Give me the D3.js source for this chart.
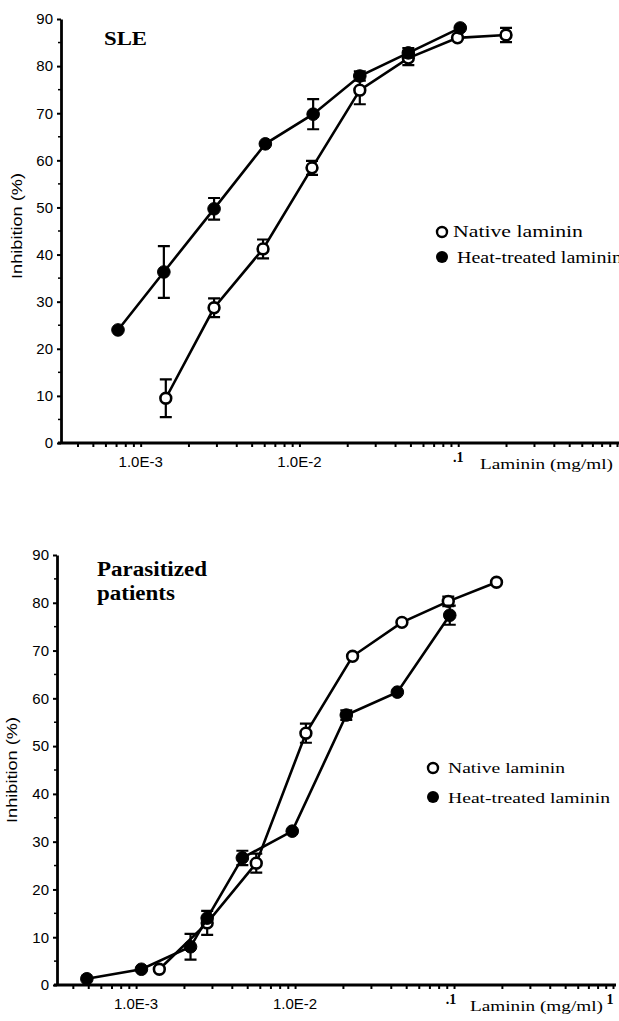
<!DOCTYPE html>
<html><head><meta charset="utf-8">
<script src="https://cdn.jsdelivr.net/npm/d3@7/dist/d3.min.js"></script>
<style>body{margin:0;background:#fff}svg{display:block}</style>
</head><body>
<svg id="chart" width="619" height="1021"></svg>
<script>
// ---------- DATA ----------
const yTickValues = [0,10,20,30,40,50,60,70,80,90];
const yMinorValues = [5,15,25,35,45,55,65,75,85];

// Panel A: SLE
const sleTitle = ["SLE"];
const sleXTickValues = [1e-3, 1e-2, 0.1];
const sleXTickLabels = ["1.0E-3", "1.0E-2", ".1"];
const sleNativeConc  = [1.44e-3, 2.9e-3, 5.9e-3, 1.2e-2, 2.4e-2, 4.85e-2, 0.099, 0.2];
const sleNativeInhib = [9.5, 28.7, 41.2, 58.4, 74.9, 81.7, 86.0, 86.6];
const sleNativeErr   = [4, 2, 2, 1.5, 3, 1.5, 0, 1.5];
const sleHeatConc    = [7.2e-4, 1.4e-3, 2.9e-3, 6.1e-3, 1.22e-2, 2.4e-2, 4.85e-2, 0.103];
const sleHeatInhib   = [24.0, 36.3, 49.7, 63.5, 69.8, 77.9, 82.8, 88.1];
const sleHeatErr     = [0, 5.5, 2.3, 0, 3.2, 1, 1, 0];

// Panel B: Parasitized patients
const parTitle = ["Parasitized", "patients"];
const parXTickValues = [1e-3, 1e-2, 0.1, 1];
const parXTickLabels = ["1.0E-3", "1.0E-2", ".1", "1"];
const parNativeConc  = [1.4e-3, 2.8e-3, 5.7e-3, 1.17e-2, 2.3e-2, 4.7e-2, 9.2e-2, 0.185];
const parNativeInhib = [3.3, 13.0, 25.5, 52.7, 68.8, 75.9, 80.3, 84.3];
const parNativeErr   = [0, 2.5, 2, 2, 0, 0, 1, 0];
const parHeatConc    = [4.9e-4, 1.08e-3, 2.2e-3, 2.8e-3, 4.66e-3, 9.6e-3, 2.1e-2, 4.4e-2, 9.4e-2];
const parHeatInhib   = [1.3, 3.3, 8.0, 14.0, 26.6, 32.2, 56.5, 61.3, 77.4];
const parHeatErr     = [0, 0, 2.7, 0, 1.5, 0, 1, 0, 2];

const legendLabels = ["Native  laminin", "Heat-treated laminin"];
const xAxisTitle = "Laminin (mg/ml)";
const yAxisTitle = "Inhibition (%)";

// ---------- DRAW ----------
const svg = d3.select("#chart");
const SANS = "'Liberation Sans', Arial, sans-serif";
const SERIF = "'Liberation Serif', 'Times New Roman', serif";

function zip(c, v, e){ return c.map((d,i)=>({x:d, y:v[i], e:e[i]})); }

function panel(cfg){
  const g = svg.append("g");
  const x = d3.scaleLog().domain(cfg.xDomain).range([cfg.left, cfg.right]);
  const y = d3.scaleLinear().domain([0,90]).range([cfg.bottom, cfg.top]);

  // minor x ticks
  const minor = [];
  for (let p=-4; p<=0; p++) for (let k=1;k<=9;k++){ const v=k*Math.pow(10,p); if (v>=cfg.xDomain[0] && v<=cfg.xDomain[1]*1.001) minor.push(v); }
  const xa = g.append("g").attr("transform",`translate(0,${cfg.bottom})`)
    .call(d3.axisBottom(x).tickValues(minor).tickSize(4).tickSizeOuter(0).tickFormat(""));
  xa.select(".domain").attr("stroke","#000").attr("stroke-width",2.8)
    .attr("d", `M${cfg.left-3},0H${cfg.axisEnd}`);
  xa.selectAll(".tick line").attr("stroke","#000").attr("stroke-width",2);

  // x tick labels
  cfg.xTicks.forEach((v,i)=>{
    const lab = cfg.xLabels[i];
    const small = lab.length <= 2;
    g.append("text").attr("x", x(v) + (small? cfg.smallDx : 0)).attr("y", cfg.bottom + (small ? 19 : 24))
      .attr("text-anchor","middle").attr("font-family", small? SERIF : SANS)
      .attr("font-size", small? 14 : 15).attr("font-weight", small? "bold":"normal").text(lab);
  });
  g.append("text").attr("x", cfg.xTitleX).attr("y", cfg.bottom + 26)
    .attr("font-family", SERIF).attr("font-size", 15).attr("textLength", 133).attr("lengthAdjust","spacingAndGlyphs")
    .text(xAxisTitle);

  // y axis
  const ya = g.append("g").attr("transform",`translate(${cfg.left},0)`)
    .call(d3.axisLeft(y).tickValues(yTickValues).tickSize(4).tickSizeOuter(0).tickPadding(4).tickFormat(d3.format("d")));
  ya.select(".domain").attr("stroke","#000").attr("stroke-width",2.8);
  ya.selectAll(".tick line").attr("stroke","#000").attr("stroke-width",2);
  ya.selectAll(".tick text").attr("font-family",SANS).attr("font-size",15).attr("fill","#000");
  g.append("g").selectAll("line").data(yMinorValues).join("line")
    .attr("x1", cfg.left-3).attr("x2", cfg.left).attr("y1", d=>y(d)).attr("y2", d=>y(d))
    .attr("stroke","#000").attr("stroke-width",1.5);

  g.append("text").attr("transform",`translate(${cfg.yTitleX},${cfg.yTitleY}) rotate(-90)`)
    .attr("text-anchor","middle").attr("font-family",SANS).attr("font-size",14)
    .attr("textLength", 106).attr("lengthAdjust","spacingAndGlyphs").text(yAxisTitle);

  // title
  cfg.title.forEach((t,i)=>{
    g.append("text").attr("x", cfg.titleX).attr("y", cfg.titleY + i*cfg.titleLH)
      .attr("font-family",SERIF).attr("font-weight","bold").attr("font-size",cfg.titleSize)
      .attr("textLength", cfg.titleW[i]).attr("lengthAdjust","spacingAndGlyphs").text(t);
  });

  // series
  const line = d3.line().x(d=>x(d.x)).y(d=>y(d.y));
  function series(data, filled){
    g.append("path").datum(data).attr("d", line).attr("fill","none").attr("stroke","#000").attr("stroke-width",2.6);
    const eb = data.filter(d=>d.e>0);
    g.append("g").selectAll("path").data(eb).join("path")
      .attr("d", d=>{ const cx=x(d.x), y1=y(d.y+d.e), y2=y(d.y-d.e);
        return `M${cx},${y1}V${y2}M${cx-6},${y1}H${cx+6}M${cx-6},${y2}H${cx+6}`; })
      .attr("stroke","#000").attr("stroke-width",2.2).attr("fill","none");
    g.append("g").selectAll("circle").data(data).join("circle")
      .attr("cx", d=>x(d.x)).attr("cy", d=>y(d.y)).attr("r", filled?6.3:5.4)
      .attr("fill", filled?"#000":"#fff").attr("stroke","#000").attr("stroke-width", filled?1:2.6);
  }
  series(cfg.native, false);
  series(cfg.heat, true);

  // legend
  const L = cfg.legend;
  g.append("circle").attr("cx", L.x).attr("cy", L.y1).attr("r",5).attr("fill","#fff").attr("stroke","#000").attr("stroke-width",2.4);
  g.append("circle").attr("cx", L.x).attr("cy", L.y2).attr("r",6).attr("fill","#000");
  g.append("text").attr("x", L.tx).attr("y", L.y1+5).attr("font-family",SERIF).attr("font-size",L.fs)
    .attr("textLength", L.w1).attr("lengthAdjust","spacingAndGlyphs").text(legendLabels[0]);
  g.append("text").attr("x", L.tx2).attr("y", L.y2+6).attr("font-family",SERIF).attr("font-size",L.fs)
    .attr("textLength", L.w2).attr("lengthAdjust","spacingAndGlyphs").text(legendLabels[1]);
}

panel({
  xDomain:[3.15e-4, 1], left:61, right:617, axisEnd:619, top:19, bottom:443,
  xTicks: sleXTickValues, xLabels: sleXTickLabels, smallDx:0, xTitleX:480,
  yTitleX:22, yTitleY:226,
  title: sleTitle, titleX:104, titleY:45, titleLH:0, titleSize:19, titleW:[43],
  native: zip(sleNativeConc, sleNativeInhib, sleNativeErr),
  heat: zip(sleHeatConc, sleHeatInhib, sleHeatErr),
  legend:{x:442, y1:232, y2:257, tx:453, tx2:457, fs:16, w1:130, w2:165}
});

panel({
  xDomain:[3.18e-4, 1], left:57, right:613, axisEnd:616, top:555, bottom:985,
  xTicks: parXTickValues, xLabels: parXTickLabels, smallDx:-3, xTitleX:470,
  yTitleX:17, yTitleY:770,
  title: parTitle, titleX:97, titleY:576, titleLH:24, titleSize:20, titleW:[110, 78],
  native: zip(parNativeConc, parNativeInhib, parNativeErr),
  heat: zip(parHeatConc, parHeatInhib, parHeatErr),
  legend:{x:433, y1:768, y2:797, tx:448, tx2:448, fs:15, w1:117, w2:162}
});
</script>
</body></html>
